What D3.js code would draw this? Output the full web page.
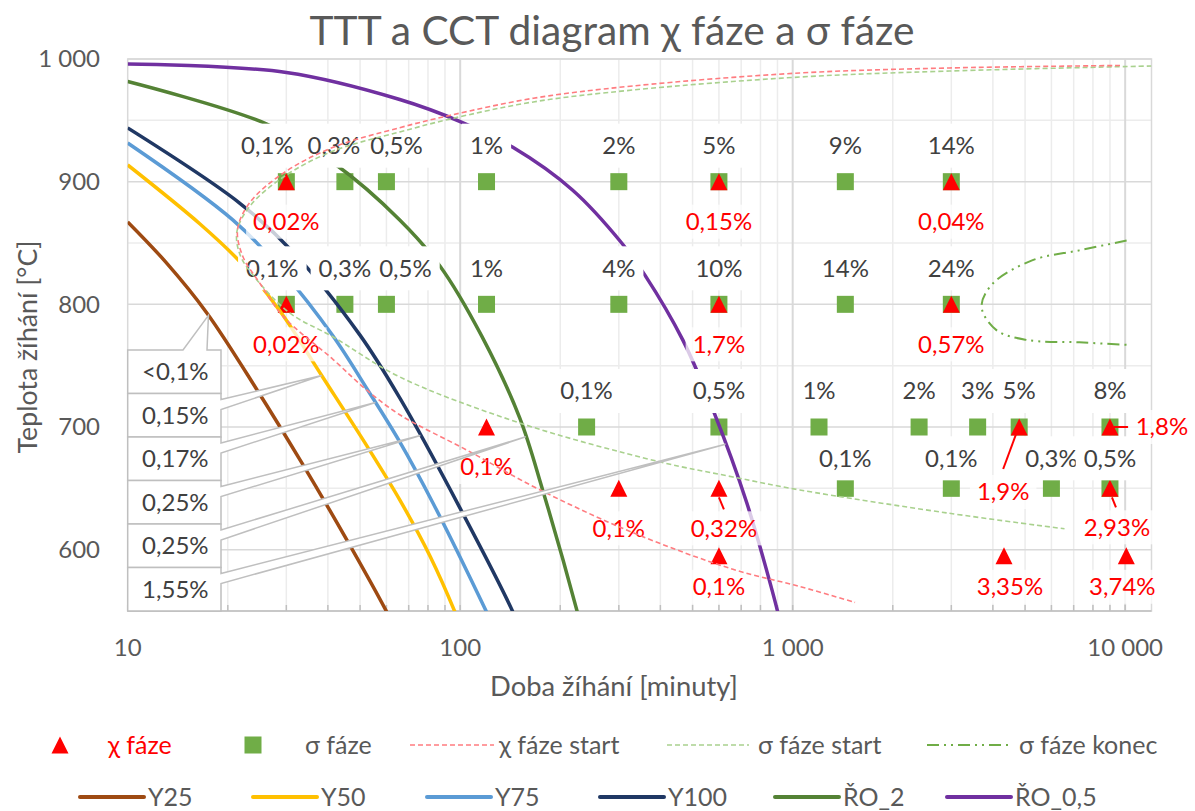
<!DOCTYPE html>
<html><head><meta charset="utf-8">
<script src="https://cdn.jsdelivr.net/npm/d3@7"></script>
<style>
body{margin:0;background:#fff}
svg{font-family:Lato,"Open Sans","DejaVu Sans",sans-serif}
</style>
</head><body>
<svg id="c" width="1195" height="811"></svg>
<script>
// ---------------- DATA ----------------
const xTicks = [10, 100, 1000, 10000];
const xTickLabels = ["10", "100", "1 000", "10 000"];
const yTicks = [600, 700, 800, 900, 1000];
const yTickLabels = ["600", "700", "800", "900", "1 000"];

// χ phase points (time [min], temperature [°C], label)
const chiTime  = [30, 600, 3000, 30, 600, 3000, 120, 300, 600, 600, 4320, 10080, 4800, 9000, 9000];
const chiTemp  = [900, 900, 900, 800, 800, 800, 700, 650, 650, 595, 595, 595, 700, 700, 650];
const chiLabel = ["0,02%","0,15%","0,04%","0,02%","1,7%","0,57%","0,1%","0,1%","0,32%","0,1%","3,35%","3,74%","1,9%","1,8%","2,93%"];

// σ phase points
const sigmaTime  = [30,45,60,120,300,600,1440,3000, 30,45,60,120,300,600,1440,3000, 240,600,1200,2400,3600,4800,9000, 1440,3000,6000,9000];
const sigmaTemp  = [900,900,900,900,900,900,900,900, 800,800,800,800,800,800,800,800, 700,700,700,700,700,700,700, 650,650,650,650];
const sigmaLabel = ["0,1%","0,3%","0,5%","1%","2%","5%","9%","14%", "0,1%","0,3%","0,5%","1%","4%","10%","14%","24%", "0,1%","0,5%","1%","2%","3%","5%","8%", "0,1%","0,1%","0,3%","0,5%"];

// cooling curves [time, temperature]
const curveY25  = [[10,867.2],[13,834.6],[17.3,793],[24.5,730.2],[33.4,670.7],[45.6,608],[60.1,549.4],[62.2,541.3]];
const curveY50  = [[10,913.6],[16.5,865.5],[21.8,834.5],[28.7,794.6],[38.4,741.6],[52.4,684.6],[65.8,640.6],[81.1,594.9],[96.4,549.3],[99,541]];
const curveY75  = [[10,931.5],[20.7,868.8],[29.3,826.4],[41.4,774.3],[52.7,730.2],[65.8,687.9],[82.8,638.1],[120,549.3],[124,541]];
const curveY100 = [[10,943.8],[21.7,882.6],[31.4,842.7],[49.9,775.1],[65.8,723.7],[99.8,634.1],[144,549.3],[148,541]];
const curveRO2  = [[10,981.7],[26.2,947],[42,914.4],[65.8,868.8],[86.9,831.3],[116,774.3],[151,707.4],[177,648.7],[225,549.3],[229,541]];
const curveRO05 = [[10,996],[30,989],[65.8,967],[100,949],[144,928],[218,893],[306,850],[359,824],[467,771],[576,714],[728,638],[902,549],[915,541]];

// transformation boundaries
const chiStart   = [[9650,994.7],[2960,992.7],[1050,988.6],[330,978],[166,968],[93,954],[65.8,944],[41.5,928],[29.4,907],[23.3,883],[21.4,861],[22.2,839],[25,817],[29.4,790],[41.5,755],[52.4,730],[65.8,710],[105,681],[173,649],[330,614],[661,584],[1050,570],[1540,557]];
const sigmaStart = [[12000,994.3],[2960,990.2],[1050,985.3],[330,974.7],[166,965],[93,951],[65.8,940.5],[41.5,925],[29.4,903.8],[23.3,880],[21.3,859],[21.8,840],[24.2,821.5],[30.7,793],[41.5,773.4],[65.8,740.8],[151,703.3],[398,671.6],[661,659.3],[1050,648.7],[2900,630],[6570,617]];
const sigmaEnd   = [[10100,852],[7280,844],[5270,836],[4000,817],[3700,798],[4100,779],[5050,771],[7280,769],[10100,767]];

// callout labels for cooling curves (label, temperature where it points)
const calloutText = ["<0,1%","0,15%","0,17%","0,25%","0,25%","1,55%"];
const calloutTemp = [791, 742, 720, 693, 692, 686];

const seriesNames  = ["Y25","Y50","Y75","Y100","ŘO_2","ŘO_0,5"];
const seriesColors = ["#9e4a12","#ffc000","#5b9bd5","#203864","#548235","#7030a0"];
const curves = [curveY25, curveY50, curveY75, curveY100, curveRO2, curveRO05];

// ---------------- LAYOUT ----------------
const svg = d3.select("#c");
const P = {l:127.7, r:1151.5, t:59, b:611};
const x = d3.scaleLog().domain([10, 12000]).range([P.l, P.r]);
const y = d3.scaleLinear().domain([550, 1000]).range([P.b, P.t]);
const FS = 24;
const grey = "#595959";

function fitWidth(sel, target, base) {
  sel.attr("font-size", base);
  const w = sel.node().getComputedTextLength();
  sel.attr("font-size", base * target / w);
}

svg.append("defs").append("clipPath").attr("id","clip")
  .append("rect").attr("x",P.l).attr("y",P.t).attr("width",P.r-P.l).attr("height",P.b-P.t);

// title
const title = svg.append("text").attr("x",612).attr("y",31).attr("dy","0.35em").attr("text-anchor","middle")
  .attr("fill",grey).text("TTT a CCT diagram χ fáze a σ fáze");
fitWidth(title, 605, 38);

// gridlines
const g = svg.append("g");
const minorX = [];
[10,100,1000].forEach(d => { for (let k=2;k<=9;k++) minorX.push(d*k); });
g.selectAll(".mx").data(minorX).join("line")
  .attr("x1",d=>x(d)).attr("x2",d=>x(d)).attr("y1",P.t).attr("y2",P.b)
  .attr("stroke","#ececec").attr("stroke-width",1.5);
const minorY = [650,750,850,950];
g.selectAll(".my").data(minorY).join("line")
  .attr("x1",P.l).attr("x2",P.r).attr("y1",d=>y(d)).attr("y2",d=>y(d))
  .attr("stroke","#ececec").attr("stroke-width",1.5);
g.selectAll(".Mx").data(xTicks.slice(1)).join("line")
  .attr("x1",d=>x(d)).attr("x2",d=>x(d)).attr("y1",P.t).attr("y2",P.b)
  .attr("stroke","#d9d9d9").attr("stroke-width",2);
g.selectAll(".My").data(yTicks).join("line")
  .attr("x1",P.l).attr("x2",P.r).attr("y1",d=>y(d)).attr("y2",d=>y(d))
  .attr("stroke","#d9d9d9").attr("stroke-width",1.5);
g.append("rect").attr("x",P.l).attr("y",P.t).attr("width",P.r-P.l).attr("height",P.b-P.t)
  .attr("fill","none").attr("stroke","#d9d9d9").attr("stroke-width",1.5);
g.append("line").attr("x1",P.l).attr("x2",P.r).attr("y1",P.b).attr("y2",P.b).attr("stroke","#bfbfbf").attr("stroke-width",1.5);
g.selectAll(".tk").data(minorX.concat(xTicks)).join("line")
  .attr("x1",d=>x(d)).attr("x2",d=>x(d)).attr("y1",P.b).attr("y2",P.b-6)
  .attr("stroke","#bfbfbf").attr("stroke-width",1.5);

// tick labels
svg.selectAll(".xl").data(xTicks).join("text")
  .attr("x",d=>x(d)).attr("y",648).attr("dy","0.35em").attr("text-anchor","middle")
  .attr("font-size",FS).attr("fill",grey).text((d,i)=>xTickLabels[i]);
svg.selectAll(".yl").data(yTicks).join("text")
  .attr("x",100).attr("y",d=>y(d)).attr("dy","0.35em").attr("text-anchor","end")
  .attr("font-size",FS).attr("fill",grey).text((d,i)=>yTickLabels[i]);

// axis titles
const xt = svg.append("text").attr("x",614).attr("y",686).attr("dy","0.35em").attr("text-anchor","middle")
  .attr("fill",grey).text("Doba žíhání [minuty]");
fitWidth(xt, 248, 25);
const yt = svg.append("text").attr("transform","translate(28,347) rotate(-90)").attr("dy","0.35em").attr("text-anchor","middle")
  .attr("fill",grey).text("Teplota žíhání [°C]");
fitWidth(yt, 213, 25);

// markers
const tri = "M0,-8.5L8.5,8.5L-8.5,8.5Z";
const mk = svg.append("g");
mk.selectAll(".sq").data(sigmaTime).join("rect")
  .attr("x",(d)=>x(d)-8.5).attr("y",(d,i)=>y(sigmaTemp[i])-8.5).attr("width",17).attr("height",17)
  .attr("fill","#70ad47");
mk.selectAll(".tr").data(chiTime).join("path")
  .attr("transform",(d,i)=>`translate(${x(d)},${y(chiTemp[i])})`).attr("d",tri).attr("fill","#ff0000");

// cooling curves
const line = d3.line().x(d=>x(d[0])).y(d=>y(d[1])).curve(d3.curveCatmullRom.alpha(0.5));
const cg = svg.append("g").attr("clip-path","url(#clip)");
curves.forEach((c,i)=>{
  cg.append("path").attr("d",line(c)).attr("fill","none")
    .attr("stroke",seriesColors[i]).attr("stroke-width",3.5);
});

// σ labels
const sigShift = {0:-19, 1:-11, 2:10, 8:-14, 10:19};
const lg = svg.append("g");
sigmaTime.forEach((t,i)=>{
  const cx = x(t) + (sigShift[i]||0);
  const cy = y(sigmaTemp[i]) + (sigmaTemp[i]===650 ? -30 : -36);
  const r = lg.append("rect");
  const tx = lg.append("text").attr("x",cx).attr("y",cy).attr("dy","0.35em").attr("text-anchor","middle")
    .attr("font-size",FS).attr("fill","#404040").text(sigmaLabel[i]);
  const w = tx.node().getComputedTextLength()+16;
  r.attr("x",cx-w/2).attr("y",cy-22).attr("width",w).attr("height",44).attr("fill","#fff");
});

// χ labels
const chiOff = {8:[5,40], 9:[0,31], 10:[6,31], 11:[-4,31], 12:[-16,65], 13:[52,0], 14:[7,39]};
const chiLead = {8:[0,9,5,21], 12:[-2,4,-16,42], 13:[4,0,18,0], 14:[2,9,6,19]};
chiTime.forEach((t,i)=>{
  const px = x(t), py = y(chiTemp[i]);
  const o = chiOff[i] || [0,40];
  const cx = px+o[0], cy = py+o[1];
  const r = lg.append("rect");
  const tx = lg.append("text").attr("x",cx).attr("y",cy).attr("dy","0.35em").attr("text-anchor","middle")
    .attr("font-size",FS).attr("fill","#ff0000").text(chiLabel[i]);
  const w = tx.node().getComputedTextLength()+14;
  r.attr("x",cx-w/2).attr("y",cy-17).attr("width",w).attr("height",34).attr("fill","#fff").attr("fill-opacity",0.75);
  if (chiLead[i]) {
    const L = chiLead[i];
    lg.append("line").attr("x1",px+L[0]).attr("y1",py+L[1]).attr("x2",px+L[2]).attr("y2",py+L[3])
      .attr("stroke","#ff0000").attr("stroke-width",2);
  }
});

// transformation boundaries (dashed)
const dg = svg.append("g").attr("clip-path","url(#clip)");
dg.append("path").attr("d",line(sigmaStart)).attr("fill","none").attr("stroke","#a9d18e")
  .attr("stroke-width",1.6).attr("stroke-dasharray","5,3");
dg.append("path").attr("d",line(chiStart)).attr("fill","none").attr("stroke","#ff7c80")
  .attr("stroke-width",1.6).attr("stroke-dasharray","5,3");
dg.append("path").attr("d",line(sigmaEnd)).attr("fill","none").attr("stroke","#70ad47")
  .attr("stroke-width",2).attr("stroke-dasharray","12,5,2,5,2,5");

// callouts
function timeAt(c, T) {
  for (let k=0;k<c.length-1;k++){
    const a=c[k], b=c[k+1];
    if ((a[1]-T)*(b[1]-T) <= 0) {
      const f = (T-a[1])/(b[1]-a[1]);
      return Math.pow(10, Math.log10(a[0]) + f*(Math.log10(b[0])-Math.log10(a[0])));
    }
  }
  return c[c.length-1][0];
}
const cog = svg.append("g");
const bx0 = P.l, bx1 = 221, by0 = 350, bh = (P.b-350)/6;
calloutText.forEach((txt,i)=>{
  const T = calloutTemp[i];
  const tipX = x(timeAt(curves[i], T)), tipY = y(T);
  const top = by0 + i*bh, bot = top + bh;
  let d;
  if (tipY < top && tipX < bx1+5) {
    d = `M${bx0},${top}H${bx1-38}L${tipX},${tipY}L${bx1-14},${top}H${bx1}V${bot}H${bx0}Z`;
  } else {
    d = `M${bx0},${top}H${bx1}V${top+6}L${tipX},${tipY}L${bx1},${top+16}V${bot}H${bx0}Z`;
  }
  cog.append("path").attr("d",d).attr("fill","#fff").attr("stroke","#bfbfbf").attr("stroke-width",1.5)
    .attr("stroke-linejoin","miter");
  cog.append("text").attr("x",(bx0+bx1)/2+1).attr("y",(top+bot)/2).attr("dy","0.35em").attr("text-anchor","middle")
    .attr("font-size",FS).attr("fill","#404040").text(txt);
});

// legend
const LF = 25;
const leg = svg.append("g");
const r1 = 745, r2 = 797;
leg.append("path").attr("transform",`translate(60,${r1})`).attr("d",tri).attr("fill","#ff0000");
leg.append("text").attr("x",108).attr("y",r1).attr("dy","0.35em").attr("font-size",LF).attr("fill","#ff0000").text("χ fáze");
leg.append("rect").attr("x",253-8.5).attr("y",r1-8.5).attr("width",17).attr("height",17).attr("fill","#70ad47");
leg.append("text").attr("x",305).attr("y",r1).attr("dy","0.35em").attr("font-size",LF).attr("fill",grey).text("σ fáze");
const dashItems = [
  {x0:410,x1:494,tx:499,c:"#ff7c80",w:1.6,da:"5,3",t:"χ fáze start"},
  {x0:667,x1:749,tx:758,c:"#a9d18e",w:1.6,da:"5,3",t:"σ fáze start"},
  {x0:927,x1:1011,tx:1019,c:"#70ad47",w:2,da:"12,5,2,5,2,5",t:"σ fáze konec"}];
dashItems.forEach(it=>{
  leg.append("line").attr("x1",it.x0).attr("x2",it.x1).attr("y1",r1).attr("y2",r1)
    .attr("stroke",it.c).attr("stroke-width",it.w).attr("stroke-dasharray",it.da);
  leg.append("text").attr("x",it.tx).attr("y",r1).attr("dy","0.35em").attr("font-size",LF).attr("fill",grey).text(it.t);
});
const row2x = [80,253,427,600,775,947];
seriesNames.forEach((n,i)=>{
  const x0 = row2x[i];
  leg.append("line").attr("x1",x0).attr("x2",x0+64).attr("y1",r2).attr("y2",r2)
    .attr("stroke",seriesColors[i]).attr("stroke-width",4).attr("stroke-linecap","round");
  leg.append("text").attr("x",x0+68).attr("y",r2).attr("dy","0.35em").attr("font-size",LF).attr("fill",grey).text(n);
});
</script>
</body></html>
